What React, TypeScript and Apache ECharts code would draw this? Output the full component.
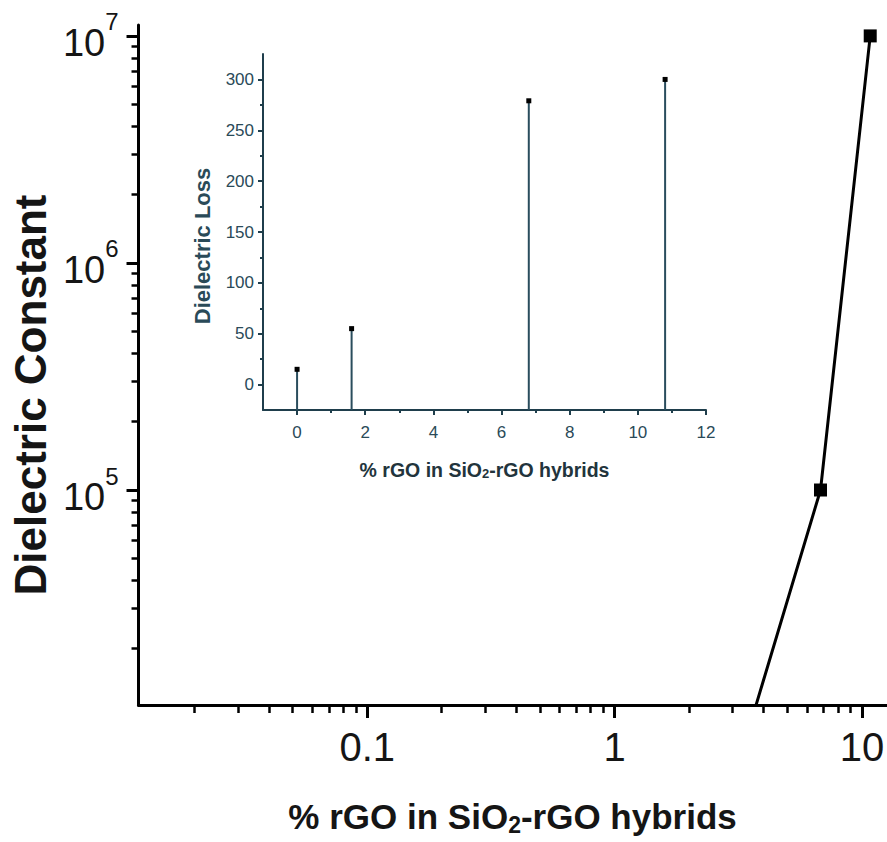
import React, { useEffect, useRef } from "react";
import * as echarts from "echarts";

// Main plot: dielectric constant vs % rGO (log-log)
const CONST_X = [1.6, 6.8, 10.8];
const CONST_Y = [520, 100000, 10000000];
// Inset: dielectric loss vs % rGO
const LOSS_X = [0, 1.6, 6.8, 10.8];
const LOSS_Y = [15, 55, 279, 300];

const MAIN_X_RANGE = [0.0119, 12.58];
const MAIN_Y_RANGE = [11300, 11170000];
const MAIN_X_MAJOR = [0.1, 1, 10];
const MAIN_Y_MAJOR = [1e5, 1e6, 1e7];
const LOG_MINOR_STEPS = [2, 3, 4, 5, 6, 7, 8, 9];
const MAIN_X_MINOR_DECADES = [0.01, 0.1, 1];
const MAIN_Y_MINOR_DECADES = [1e4, 1e5, 1e6];

const INSET_X_RANGE = [-1, 12];
const INSET_Y_RANGE = [-25, 325];
const INSET_X_TICKS = [0, 2, 4, 6, 8, 10, 12];
const INSET_X_MINOR = [1, 3, 5, 7, 9, 11];
const INSET_Y_TICKS = [0, 50, 100, 150, 200, 250, 300];
const INSET_Y_MINOR = [25, 75, 125, 175, 225, 275];

const FONT = "'Liberation Sans', Arial, Helvetica, sans-serif";
const INSET_AXIS = "#1f3e4c";
const INSET_TEXT = "#2a4a58";
const STEM = "#2a4d5d";

function minorValues(decades: number[], lo: number, hi: number) {
  const out: number[] = [];
  decades.forEach((d) => LOG_MINOR_STEPS.forEach((s) => {
    const v = d * s;
    if (v > lo && v < hi) out.push(v);
  }));
  return out;
}

function decadeExp(v: number): number | null {
  const l = Math.log10(v);
  const e = Math.round(l);
  return Math.abs(l - e) < 1e-6 ? e : null;
}

// extra log axis over the main one, used only for its minor tick marks
function minorLogAxis(pos: "bottom" | "left", range: number[], values: number[], len: number) {
  return {
    type: "log",
    gridIndex: 0,
    position: pos,
    min: range[0],
    max: range[1],
    axisLine: { show: false, onZero: false },
    axisLabel: { show: false },
    splitLine: { show: false },
    axisTick: { show: true, customValues: values, length: len, lineStyle: { color: "#000", width: 2.5 } },
  };
}

export default function App() {
  const ref = useRef<HTMLDivElement>(null);

  useEffect(() => {
    if (!ref.current) return;
    const chart = echarts.init(ref.current, null, { renderer: "svg" });

    const xMinor = minorValues(MAIN_X_MINOR_DECADES, MAIN_X_RANGE[0], MAIN_X_RANGE[1]);
    const yMinor = minorValues(MAIN_Y_MINOR_DECADES, MAIN_Y_RANGE[0], MAIN_Y_RANGE[1]);

    const option: any = {
      animation: false,
      grid: [
        { left: 132.5, top: 25, right: 0, bottom: 137 },
        { left: 263, top: 54, width: 443, height: 356 },
      ],
      xAxis: [
        {
          type: "log",
          gridIndex: 0,
          min: MAIN_X_RANGE[0],
          max: MAIN_X_RANGE[1],
          axisLine: { show: true, onZero: false, lineStyle: { color: "#000", width: 3 } },
          axisTick: { show: true, customValues: MAIN_X_MAJOR, length: 13, lineStyle: { color: "#000", width: 3 } },
          splitLine: { show: false },
          axisLabel: {
            customValues: MAIN_X_MAJOR,
            margin: 22,
            fontSize: 40,
            fontFamily: FONT,
            color: "#151515",
            formatter: (v: number) => {
              const e = decadeExp(v);
              if (e === null) return "";
              return e < 0 ? Math.pow(10, e).toFixed(-e) : String(Math.pow(10, e));
            },
          },
          name: "% rGO in SiO{sub|2}-rGO hybrids",
          nameLocation: "middle",
          nameGap: 92,
          nameTextStyle: {
            fontSize: 35,
            fontWeight: "bold",
            fontFamily: FONT,
            color: "#151515",
            rich: {
              sub: { fontSize: 23, fontWeight: "bold", fontFamily: FONT, color: "#151515", padding: [16, 0, 0, 0] },
            },
          },
        },
        {
          type: "value",
          gridIndex: 1,
          min: INSET_X_RANGE[0],
          max: INSET_X_RANGE[1],
          axisLine: { show: true, onZero: false, lineStyle: { color: INSET_AXIS, width: 2 } },
          axisTick: { show: true, customValues: INSET_X_TICKS, length: 5, lineStyle: { color: INSET_AXIS, width: 2 } },
          axisLabel: { customValues: INSET_X_TICKS, margin: 14, fontSize: 17, fontFamily: FONT, color: INSET_TEXT },
          splitLine: { show: false },
          name: "% rGO in SiO{sub|2}-rGO hybrids",
          nameLocation: "middle",
          nameGap: 49,
          nameTextStyle: {
            fontSize: 19.5,
            fontWeight: "bold",
            fontFamily: FONT,
            color: "#22343c",
            rich: { sub: { fontSize: 13, fontWeight: "bold", fontFamily: FONT, color: "#22343c", padding: [8, 0, 0, 0] } },
          },
        },
        {
          type: "value",
          gridIndex: 1,
          position: "bottom",
          min: INSET_X_RANGE[0],
          max: INSET_X_RANGE[1],
          axisLine: { show: false, onZero: false },
          axisTick: { show: true, customValues: INSET_X_MINOR, length: 3, lineStyle: { color: INSET_AXIS, width: 2 } },
          axisLabel: { show: false },
          splitLine: { show: false },
        },
        minorLogAxis("bottom", MAIN_X_RANGE, xMinor, 8),
      ],
      yAxis: [
        {
          type: "log",
          gridIndex: 0,
          min: MAIN_Y_RANGE[0],
          max: MAIN_Y_RANGE[1],
          axisLine: { show: true, onZero: false, lineStyle: { color: "#000", width: 3 } },
          axisTick: { show: true, customValues: MAIN_Y_MAJOR, length: 12, lineStyle: { color: "#000", width: 3 } },
          splitLine: { show: false },
          axisLabel: {
            customValues: MAIN_Y_MAJOR,
            margin: 20,
            fontFamily: FONT,
            color: "#151515",
            formatter: (v: number) => {
              const e = decadeExp(v);
              if (e === null) return "";
              return "{a|10}{b|" + e + "}";
            },
            rich: {
              a: { fontSize: 38, fontFamily: FONT, color: "#151515", padding: [14, 0, 0, 0] },
              b: { fontSize: 24, fontFamily: FONT, color: "#151515", verticalAlign: "top" },
            },
          },
          name: "Dielectric Constant",
          nameLocation: "middle",
          nameGap: 82,
          nameTextStyle: { fontSize: 44, fontWeight: "bold", fontFamily: FONT, color: "#151515", padding: [0, 60, 0, 0] },
        },
        {
          type: "value",
          gridIndex: 1,
          min: INSET_Y_RANGE[0],
          max: INSET_Y_RANGE[1],
          axisLine: { show: true, onZero: false, lineStyle: { color: INSET_AXIS, width: 2 } },
          axisTick: { show: true, customValues: INSET_Y_TICKS, length: 5, lineStyle: { color: INSET_AXIS, width: 2 } },
          axisLabel: { customValues: INSET_Y_TICKS, margin: 9, fontSize: 17, fontFamily: FONT, color: INSET_TEXT },
          splitLine: { show: false },
          name: "Dielectric Loss",
          nameLocation: "middle",
          nameGap: 50,
          nameTextStyle: { fontSize: 22, fontWeight: "bold", fontFamily: FONT, color: INSET_TEXT, padding: [0, 28, 0, 0] },
        },
        {
          type: "value",
          gridIndex: 1,
          position: "left",
          min: INSET_Y_RANGE[0],
          max: INSET_Y_RANGE[1],
          axisLine: { show: false, onZero: false },
          axisTick: { show: true, customValues: INSET_Y_MINOR, length: 3, lineStyle: { color: INSET_AXIS, width: 2 } },
          axisLabel: { show: false },
          splitLine: { show: false },
        },
        minorLogAxis("left", MAIN_Y_RANGE, yMinor, 7),
      ],
      series: [
        {
          type: "line",
          xAxisIndex: 0,
          yAxisIndex: 0,
          data: CONST_X.map((x, i) => [x, CONST_Y[i]]),
          clip: true,
          symbol: "rect",
          symbolSize: 13,
          itemStyle: { color: "#000" },
          lineStyle: { color: "#000", width: 3 },
        },
        {
          type: "custom",
          xAxisIndex: 1,
          yAxisIndex: 1,
          silent: true,
          data: LOSS_X.map((x, i) => [x, LOSS_Y[i]]),
          renderItem: (params: any, api: any) => {
            const cs = params.coordSys;
            const top = api.coord([api.value(0), api.value(1)]);
            const baseY = cs.y + cs.height;
            return {
              type: "group",
              children: [
                { type: "line", shape: { x1: top[0], y1: baseY, x2: top[0], y2: top[1] }, style: { stroke: STEM, lineWidth: 2 } },
                { type: "rect", shape: { x: top[0] - 2.5, y: top[1] - 2.5, width: 5, height: 5 }, style: { fill: "#000" } },
              ],
            };
          },
        },
      ],
    };

    chart.setOption(option);
    return () => chart.dispose();
  }, []);

  return (
    <div
      ref={ref}
      style={{ position: "absolute", left: 0, top: 0, width: 887, height: 842, background: "#fff" }}
    />
  );
}
